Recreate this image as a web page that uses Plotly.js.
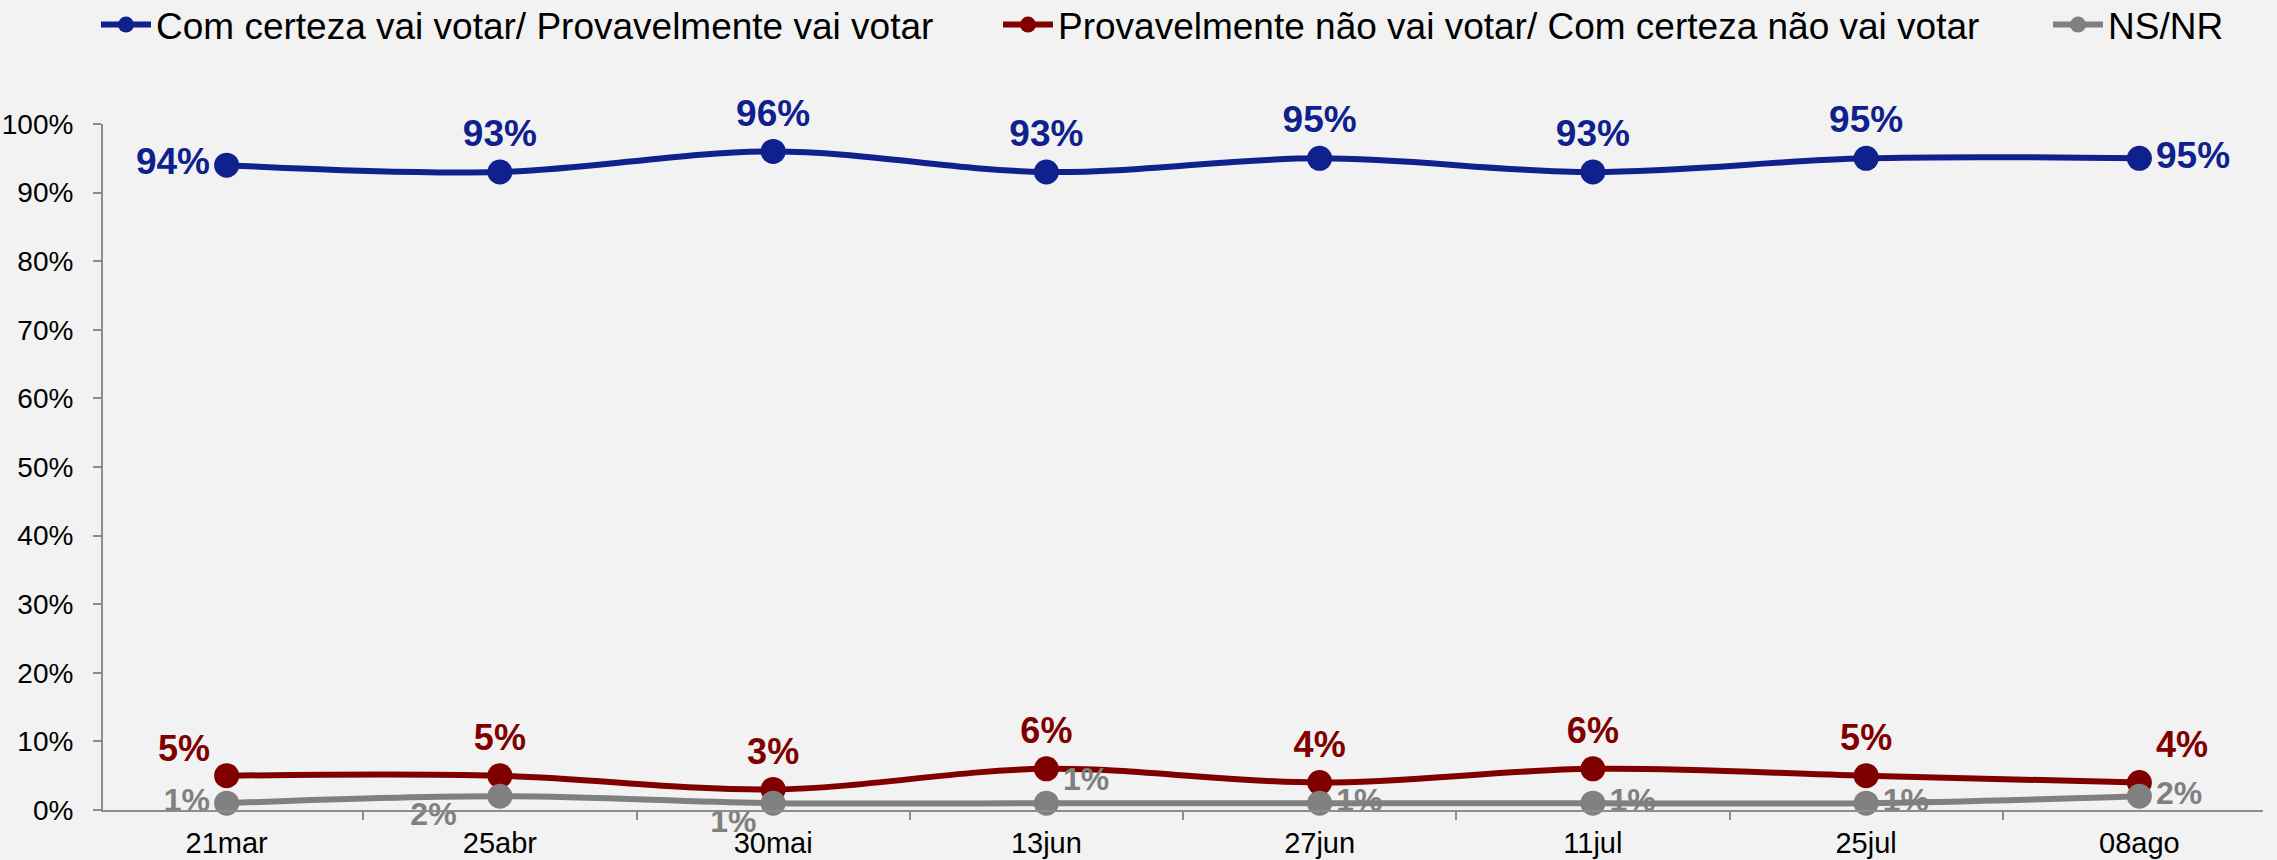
<!DOCTYPE html>
<html>
<head>
<meta charset="utf-8">
<script src="https://cdn.plot.ly/plotly-3.0.1.min.js"></script>
<style>
  html, body { margin: 0; padding: 0; background: #f2f2f2; }
  #chart { width: 2277px; height: 860px; }
</style>
</head>
<body>
<div id="chart"></div>
<script>
// ondas da pesquisa
var waves = ['21mar', '25abr', '30mai', '13jun', '27jun', '11jul', '25jul', '08ago'];

// % de intenção de votar
var vaiVotar = [94, 93, 96, 93, 95, 93, 95, 95];
var naoVaiVotar = [5, 5, 3, 6, 4, 6, 5, 4];
var nsnr = [1, 2, 1, 1, 1, 1, 1, 2];

var seriesNames = [
  'Com certeza vai votar/ Provavelmente vai votar',
  'Provavelmente não vai votar/ Com certeza não vai votar',
  'NS/NR'
];

var FONT = 'Liberation Sans, Arial, sans-serif';
var NARROW = 'Liberation Sans Narrow, Arial Narrow, Liberation Sans, Arial, sans-serif';

// rótulo de dados; "fmt" so ajusta o lugar do texto (linha vazia / espaços)
function labels(yVals, fmt) {
  return yVals.map(function (v, i) {
    var f = (fmt && fmt[i]) || '{v}';
    return f.replace('{v}', v + '%');
  });
}

function makeTrace(yVals, name, color, labelSize, positions, legendId, fmt) {
  return {
    x: waves,
    y: yVals,
    name: name,
    type: 'scatter',
    mode: 'lines+markers+text',
    line: { color: color, width: 6, shape: 'spline', smoothing: 1 },
    marker: { color: color, size: 25 },
    text: labels(yVals, fmt),
    textposition: positions,
    textfont: { family: FONT, size: labelSize, color: color, weight: 'bold' },
    cliponaxis: false,
    hoverinfo: 'skip',
    legend: legendId,
  };
}

var trace1 = makeTrace(vaiVotar, seriesNames[0], '#0f218c', 37,
  ['middle left', 'top center', 'top center', 'top center', 'top center', 'top center', 'top center', 'middle right'],
  'legend');
var trace2 = makeTrace(naoVaiVotar, seriesNames[1], '#800000', 36,
  ['middle left', 'top center', 'top center', 'top center', 'top center', 'top center', 'top center', 'top right'],
  'legend2',
  ['{v}<br>\u00a0']);
var trace3 = makeTrace(nsnr, seriesNames[2], '#808080', 32,
  ['middle left', 'middle left', 'middle left', 'middle right', 'middle right', 'middle right', 'middle right', 'middle right'],
  'legend3',
  [null, '\u00a0<br>{v}\u00a0\u00a0\u00a0', '\u00a0<br>{v}', '{v}<br>\u00a0\u00a0', null, null, null, null]);

var data = [trace1, trace2, trace3];

function legendAt(px) {
  return {
    orientation: 'h',
    xref: 'container', yref: 'container',
    x: px / 2277, y: 1 - 25 / 860,
    xanchor: 'left', yanchor: 'middle',
    itemwidth: 50,
    bgcolor: 'rgba(0,0,0,0)',
    font: { family: FONT, size: 37, color: '#000000' },
  };
}

var layout = {
  width: 2277,
  height: 860,
  paper_bgcolor: '#f2f2f2',
  plot_bgcolor: '#f2f2f2',
  margin: { l: 103, r: 14, t: 124, b: 50 },
  font: { family: FONT, color: '#000000' },
  showlegend: true,
  legend: legendAt(96),
  legend2: legendAt(998),
  legend3: legendAt(2048),
  xaxis: {
    type: 'category',
    showgrid: false,
    zeroline: false,
    showline: true,
    linecolor: '#8c8c8c',
    linewidth: 2,
    ticks: 'outside',
    tickson: 'boundaries',
    ticklen: 8,
    tickwidth: 2,
    tickcolor: '#8c8c8c',
    tickfont: { family: FONT, size: 29, color: '#000000' },
    ticklabelstandoff: 6,
  },
  yaxis: {
    range: [0, 100],
    showgrid: false,
    zeroline: false,
    showline: true,
    linecolor: '#8c8c8c',
    linewidth: 2,
    ticks: 'outside',
    ticklen: 8,
    tickwidth: 2,
    tickcolor: '#8c8c8c',
    dtick: 10,
    ticksuffix: '%',
    tickfont: { family: NARROW, size: 28, color: '#000000' },
    ticklabelstandoff: 14,
  },
};

Plotly.newPlot('chart', data, layout, {
  displayModeBar: false,
  staticPlot: true,
});
</script>
</body>
</html>
